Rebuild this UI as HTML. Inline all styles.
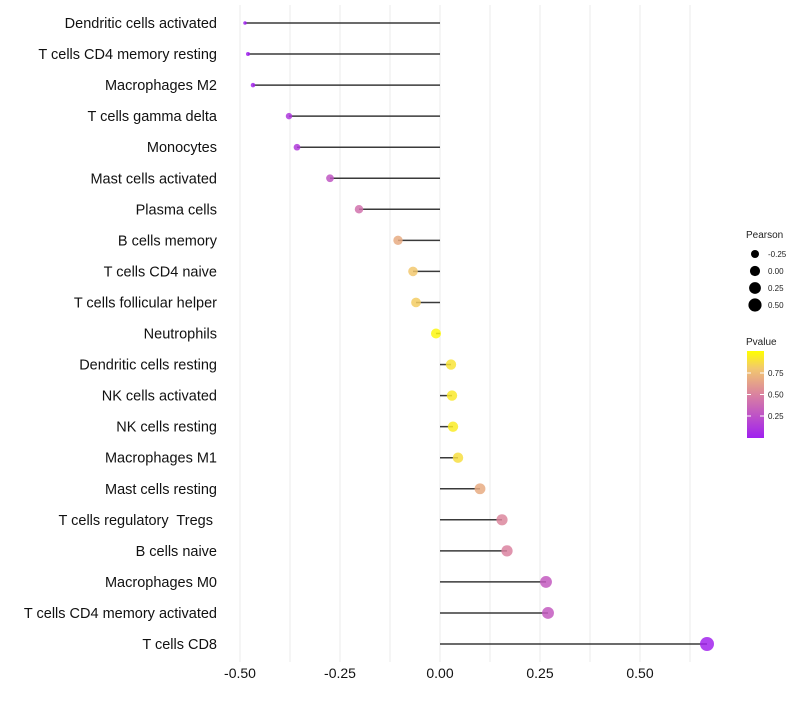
<!DOCTYPE html>
<html><head><meta charset="utf-8"><style>body{margin:0;background:#fff}svg{font-family:"Liberation Sans",sans-serif}text{white-space:pre}</style></head>
<body>
<svg id="c" width="800" height="700"></svg>
<script>
const categories=["Dendritic cells activated","T cells CD4 memory resting","Macrophages M2","T cells gamma delta","Monocytes","Mast cells activated","Plasma cells","B cells memory","T cells CD4 naive","T cells follicular helper","Neutrophils","Dendritic cells resting","NK cells activated","NK cells resting","Macrophages M1","Mast cells resting","T cells regulatory  Tregs ","B cells naive","Macrophages M0","T cells CD4 memory activated","T cells CD8"];
const pearson=[-0.4875,-0.48,-0.4675,-0.3775,-0.3575,-0.275,-0.2025,-0.105,-0.0675,-0.06,-0.01,0.0275,0.03,0.0325,0.045,0.1,0.155,0.1675,0.265,0.27,0.6675];
const pvalue=[0.0,0.01,0.03,0.12,0.14,0.28,0.42,0.68,0.8,0.82,0.97,0.9,0.92,0.93,0.88,0.68,0.52,0.5,0.3,0.3,0.02];
const xTicks=[-0.5,-0.25,0,0.25,0.5];
const xTickLabels=["-0.50","-0.25","0.00","0.25","0.50"];
const sizeLegend=[-0.25,0,0.25,0.5];
const sizeLegendLabels=["-0.25","0.00","0.25","0.50"];
const pTicks=[0.25,0.5,0.75];
const pTickLabels=["0.25","0.50","0.75"];
const NS="http://www.w3.org/2000/svg",svg=document.getElementById('c');
function el(t,a,p){const e=document.createElementNS(NS,t);for(const k in a)e.setAttribute(k,a[k]);(p||svg).appendChild(e);return e;}
const x=v=>440+v*400;
const y=i=>23+i*31.05;
const r=v=>1.5+5.5*Math.sqrt(Math.max(0,(v+0.49)/1.16));
function col(p){const s=[[0,[160,32,240]],[0.5,[218,130,160]],[0.8,[242,200,110]],[1,[255,255,0]]];for(let i=1;i<s.length;i++){if(p<=s[i][0]){const t=(p-s[i-1][0])/(s[i][0]-s[i-1][0]);const c=s[i-1][1].map((a,j)=>Math.round(a+(s[i][1][j]-a)*t));return `rgb(${c})`;}}return 'rgb(255,255,0)';}
for(let g=-0.5;g<=0.626;g+=0.125){const l=el('line',{x1:x(g),x2:x(g),y1:5,y2:662,stroke:'#ebebeb','stroke-width':1});

}
xTicks.forEach((v,i)=>{const t=el('text',{x:x(v),y:678,'text-anchor':'middle','font-size':14,fill:'#111'});t.textContent=xTickLabels[i];

});
categories.forEach((c,i)=>{
const t=el('text',{x:217,y:y(i)+5,'text-anchor':'end','font-size':14.5,fill:'#111'});t.textContent=c;


const l=el('line',{x1:x(0),x2:x(pearson[i]),y1:y(i),y2:y(i),stroke:'#3a3a3a','stroke-width':1.5});


const d=el('circle',{cx:x(pearson[i]),cy:y(i),r:r(pearson[i]),fill:col(pvalue[i]),'fill-opacity':0.85});

});
let t=el('text',{x:746,y:238,'font-size':10,fill:'#222'});t.textContent='Pearson';


sizeLegend.forEach((v,i)=>{const cy=254+i*17;const d=el('circle',{cx:755,cy:cy,r:r(v),fill:'#000'});


const tt=el('text',{x:768,y:cy+3,'font-size':8,fill:'#222'});tt.textContent=sizeLegendLabels[i];

});
t=el('text',{x:746,y:345,'font-size':10,fill:'#222'});t.textContent='Pvalue';


const defs=el('defs',{});const lg=el('linearGradient',{id:'g',x1:0,y1:1,x2:0,y2:0},defs);
[0,0.25,0.5,0.65,0.8,1].forEach(o=>el('stop',{offset:o,'stop-color':col(o)},lg));
const bar=el('rect',{x:747,y:351,width:17,height:87,fill:'url(#g)'});


pTicks.forEach((v,i)=>{const yy=437.5-v*86;el('line',{x1:747,x2:751,y1:yy,y2:yy,stroke:'#fff'});el('line',{x1:760,x2:764,y1:yy,y2:yy,stroke:'#fff'});
const tt=el('text',{x:768,y:yy+3,'font-size':8,fill:'#222'});tt.textContent=pTickLabels[i];

});
</script>
</body></html>
